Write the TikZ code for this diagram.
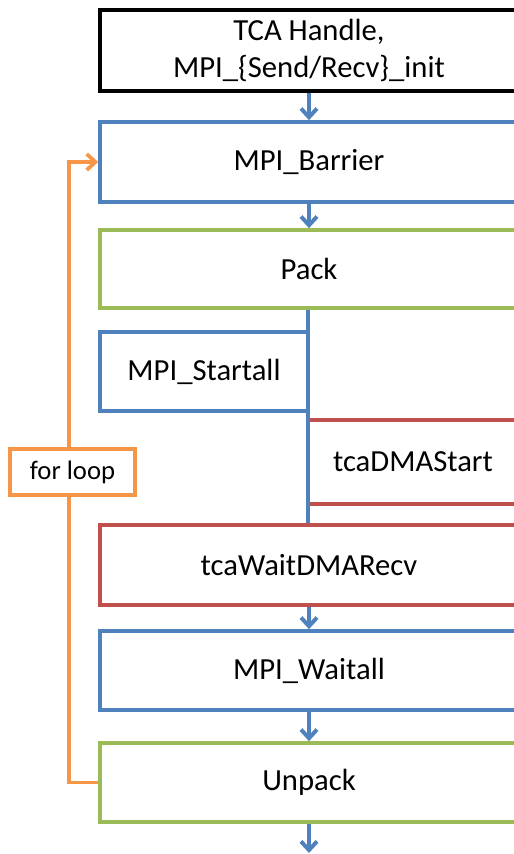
\documentclass[tikz,border=0pt]{standalone}
\usepackage{fontspec}
\setmainfont{Carlito}
\usetikzlibrary{arrows.meta,calc}
\definecolor{cblue}{HTML}{4F81BD}
\definecolor{cgreen}{HTML}{9BBB59}
\definecolor{cred}{HTML}{C0504D}
\definecolor{corange}{HTML}{F79646}
\begin{document}
\begin{tikzpicture}[x=0.75pt,y=-0.75pt,
  box/.style={rectangle,draw,line width=2.8pt,inner sep=0pt,
    minimum width=313.5pt,minimum height=60pt,align=center,
    font=\fontsize{23}{28}\selectfont},
  tip/.style={-{Straight Barb[length=6.5pt,width=12pt]}},
  flow/.style={draw=cblue,line width=3pt,tip},
  loopline/.style={draw=corange,line width=2.8pt}]
\useasboundingbox (0,0) rectangle (514,854);
\clip (0,0) rectangle (514,854);

% main sequence of steps
\node[box,draw=black,minimum height=60.75pt] (init) at (309,50.5)
  {TCA Handle,\\MPI\_\{Send/Recv\}\_init};
\node[box,draw=cblue] (barrier) at (309,162) {MPI\_Barrier};
\node[box,draw=cgreen,minimum height=58.5pt] (pack) at (309,269) {Pack};
\node[box,draw=cblue,minimum width=156pt,minimum height=59.25pt]
  (startall) at (204,371.5) {MPI\_Startall};
\node[box,draw=none,minimum width=157.5pt] (dma) at (413,462) {tcaDMAStart};
\node[box,draw=cred] (wait) at (309,565) {tcaWaitDMARecv};
\node[box,draw=cblue,minimum height=59.25pt] (waitall) at (309,670.5) {MPI\_Waitall};
\node[box,draw=cgreen,minimum height=59.25pt] (unpack) at (309,782.5) {Unpack};
\coordinate (out) at (309,853);

% open-sided box for the DMA start
\draw[cred,line width=2.8pt] (dma.north west) -- (dma.north east)
  (dma.south west) -- (dma.south east);

% loop label
\node[rectangle,draw=corange,line width=2.8pt,minimum width=93.75pt,
  minimum height=34.5pt,inner sep=0pt,font=\fontsize{20}{24}\selectfont]
  (loop) at (72.5,472) {for loop};

% flow arrows
\draw[flow] (init.south) -- (barrier.north);
\draw[flow] (barrier.south) -- (pack.north);
\draw[draw=cblue,line width=3pt] ([xshift=-0.75pt]pack.south) -- ([xshift=-0.75pt]wait.north);
\draw[flow] (wait.south) -- (waitall.north);
\draw[flow] (waitall.south) -- (unpack.north);
\draw[flow] (unpack.south) -- (out);

% loop back edge
\draw[loopline] (unpack.west) -| ([xshift=-2.5pt]loop.south);
\draw[loopline,tip] ([xshift=-2.5pt]loop.north) |- (barrier.west);
\end{tikzpicture}
\end{document}
